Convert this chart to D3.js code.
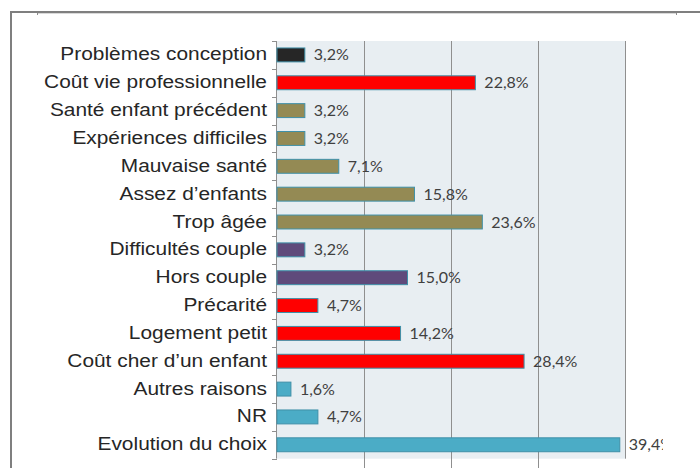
<!DOCTYPE html>
<html>
<head>
<meta charset="utf-8">
<script src="https://cdn.jsdelivr.net/npm/d3@7"></script>
<style>
  html, body { margin: 0; padding: 0; background: #fff; }
  svg { display: block; }
</style>
</head>
<body>
<svg id="chart" width="700" height="468"></svg>
<script>
const categories = [
  "Problèmes conception",
  "Coût vie professionnelle",
  "Santé enfant précédent",
  "Expériences difficiles",
  "Mauvaise santé",
  "Assez d’enfants",
  "Trop âgée",
  "Difficultés couple",
  "Hors couple",
  "Précarité",
  "Logement petit",
  "Coût cher d’un enfant",
  "Autres raisons",
  "NR",
  "Evolution du choix"
];
const values = [3.2, 22.8, 3.2, 3.2, 7.1, 15.8, 23.6, 3.2, 15.0, 4.7, 14.2, 28.4, 1.6, 4.7, 39.4];
const colors = ["#262626", "#ff0000", "#948a54", "#948a54", "#948a54", "#948a54", "#948a54",
                "#5f4a7b", "#5f4a7b", "#ff0000", "#ff0000", "#ff0000", "#4bacc6", "#4bacc6", "#4bacc6"];
const xTicks = [0, 10, 20, 30, 40];

const svg = d3.select("#chart");
const plot = { left: 277, right: 625, top: 41, bottom: 458.7 };

const x = d3.scaleLinear().domain([0, 40]).range([plot.left, plot.right]);
const y = d3.scaleBand().domain(categories).range([plot.top, plot.bottom])
  .paddingInner(0.5).paddingOuter(0.25);

// outer frame
svg.append("line").attr("x1", 10).attr("x2", 700).attr("y1", 12).attr("y2", 12)
  .attr("stroke", "#7f7f7f").attr("stroke-width", 2);
svg.append("line").attr("x1", 11).attr("x2", 11).attr("y1", 11).attr("y2", 468)
  .attr("stroke", "#7f7f7f").attr("stroke-width", 2);
svg.append("line").attr("x1", 37).attr("x2", 676).attr("y1", 13.5).attr("y2", 13.5)
  .attr("stroke", "#d9d9d9").attr("stroke-width", 1);
[37, 676].forEach(px => {
  svg.append("line").attr("x1", px + 0.5).attr("x2", px + 0.5).attr("y1", 13).attr("y2", 15)
    .attr("stroke", "#8c8c8c").attr("stroke-width", 1);
});

// plot background
svg.append("rect")
  .attr("x", plot.left).attr("y", plot.top)
  .attr("width", plot.right - plot.left).attr("height", plot.bottom - plot.top)
  .attr("fill", "#e8eef2");

// gridlines
svg.append("g").selectAll("line").data(xTicks.slice(1)).join("line")
  .attr("x1", d => Math.round(x(d)) + 0.5).attr("x2", d => Math.round(x(d)) + 0.5)
  .attr("y1", plot.top).attr("y2", d => d === 40 ? plot.bottom : 468)
  .attr("stroke", "#8f8f8f").attr("stroke-width", 1);

// left axis
const step = y.step();
const offset = (step - y.bandwidth()) / 2;
const tickYs = categories.map(c => y(c) - offset).concat([y(categories[categories.length - 1]) - offset + step]);
svg.append("line").attr("x1", plot.left - 0.5).attr("x2", plot.left - 0.5)
  .attr("y1", plot.top).attr("y2", plot.bottom).attr("stroke", "#8f8f8f");
svg.append("g").selectAll("line").data(tickYs).join("line")
  .attr("x1", plot.left - 5).attr("x2", plot.left)
  .attr("y1", d => Math.round(d) + 0.5).attr("y2", d => Math.round(d) + 0.5)
  .attr("stroke", "#8f8f8f");

// clip for value labels
svg.append("defs").append("clipPath").attr("id", "clip")
  .append("rect").attr("x", 0).attr("y", 0).attr("width", 663).attr("height", 468);

// bars
svg.append("g").selectAll("rect").data(categories).join("rect")
  .attr("x", x(0))
  .attr("y", d => y(d))
  .attr("width", (d, i) => x(values[i]) - x(0))
  .attr("height", y.bandwidth())
  .attr("fill", (d, i) => colors[i])
  .attr("stroke", "#3f90a8")
  .attr("stroke-width", 1);

// value labels
const fmt = v => v.toFixed(1).replace(".", ",") + "%";
svg.append("g").attr("clip-path", "url(#clip)")
  .selectAll("text").data(categories).join("text")
  .attr("x", (d, i) => x(values[i]) + 9)
  .attr("y", d => y(d) + y.bandwidth() / 2 + 5.5)
  .attr("font-family", "Lato, 'Open Sans', sans-serif")
  .attr("font-size", 16)
  .attr("fill", "#404040")
  .text((d, i) => fmt(values[i]));

// category labels
svg.append("g").selectAll("text").data(categories).join("text")
  .attr("transform", d => `translate(267,${y(d) + y.bandwidth() / 2 + 5.5}) scale(1.13,1)`)
  .attr("text-anchor", "end")
  .attr("font-family", "'Liberation Sans', Arial, sans-serif")
  .attr("font-size", 18.5)
  .attr("fill", "#262626")
  .text(d => d);
</script>
</body>
</html>
